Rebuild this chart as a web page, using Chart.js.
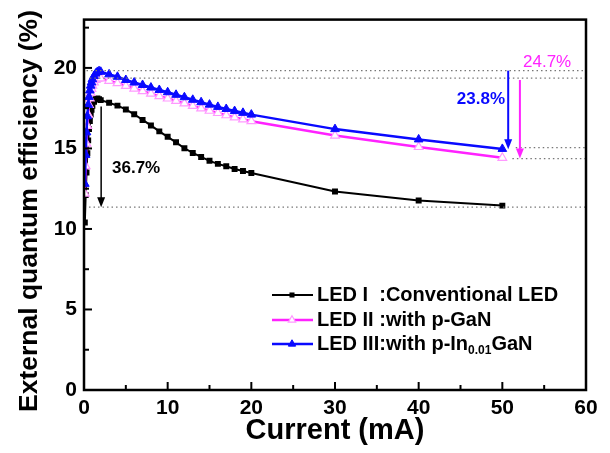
<!DOCTYPE html>
<html>
<head>
<meta charset="utf-8">
<script src="https://cdn.jsdelivr.net/npm/chart.js@4/dist/chart.umd.min.js"></script>
<style>
  html, body { margin: 0; padding: 0; background: #fff; }
</style>
</head>
<body>
<canvas id="eqeChart" width="610" height="453"></canvas>
<script>
// ===== Data =====
const current = [0.1, 0.2, 0.3, 0.4, 0.5, 0.6, 0.7, 0.8, 0.9, 1.0, 1.2, 1.4, 1.6, 1.8,
    2, 3, 4, 5, 6, 7, 8, 9, 10, 11, 12, 13, 14, 15, 16, 17, 18, 19, 20, 30, 40, 50];

const ledI = [10.4, 12.1, 13.5, 14.7, 15.5, 16.2, 16.7, 17.1, 17.4, 17.65, 17.9, 18.05, 18.1, 18.05,
    18.0, 17.84, 17.66, 17.42, 17.12, 16.77, 16.43, 16.06, 15.72, 15.38, 15.01, 14.72, 14.47, 14.23,
    14.04, 13.89, 13.72, 13.6, 13.48, 12.32, 11.77, 11.45];

const ledII = [12.2, 13.9, 15.3, 16.4, 17.1, 17.7, 18.1, 18.45, 18.7, 18.9, 19.1, 19.25, 19.33, 19.37,
    19.35, 19.2, 19.05, 18.88, 18.72, 18.56, 18.4, 18.25, 18.1, 17.95, 17.8, 17.64, 17.49, 17.34,
    17.2, 17.06, 16.93, 16.81, 16.69, 15.8, 15.09, 14.42];

const ledIII = [12.8, 14.6, 16.0, 17.0, 17.7, 18.2, 18.6, 18.9, 19.1, 19.3, 19.5, 19.65, 19.75, 19.8,
    19.76, 19.6, 19.45, 19.25, 19.09, 18.94, 18.78, 18.63, 18.49, 18.33, 18.18, 18.02, 17.87, 17.72,
    17.58, 17.45, 17.32, 17.21, 17.1, 16.2, 15.56, 14.97];

const xTicks = [0, 10, 20, 30, 40, 50, 60];
const yTicks = [0, 5, 10, 15, 20];

// legend text: main part, subscript, tail
const legendMain = ["LED I  :Conventional LED", "LED II :with p-GaN", "LED III:with p-In"];
const legendSub = ["", "", "0.01"];
const legendTail = ["", "", "GaN"];

// annotation values (% drop from peak)
const dropI = "36.7%";
const dropII = "24.7%";
const dropIII = "23.8%";

const xTitle = "Current (mA)";
const yTitle = "External quantum efficiency (%)";

// ===== Styles =====
const FONT = "'Liberation Sans', Arial, sans-serif";
const BLACK = "#000000";
const PINK = "#ff22ff";
const PINK_MARK = "#ff99ff";
const BLUE = "#0a0aff";

const toPoints = (ys) => current.map((x, i) => ({ x: x, y: ys[i] }));

// ===== Frame, ticks, arrows, dotted guides, legend, y title =====
const decorPlugin = {
    id: "decor",
    afterDraw(chart) {
        const ctx = chart.ctx;
        const xs = chart.scales.x;
        const ys = chart.scales.y;
        const a = chart.chartArea;
        const px = (v) => xs.getPixelForValue(v);
        const py = (v) => ys.getPixelForValue(v);

        ctx.save();

        // dotted guide lines
        ctx.strokeStyle = "#777";
        ctx.lineWidth = 1.2;
        ctx.setLineDash([1.5, 3]);
        const guide = (x0, y) => {
            ctx.beginPath();
            ctx.moveTo(px(x0), py(y));
            ctx.lineTo(a.right, py(y));
            ctx.stroke();
        };
        guide(0.3, 19.83);
        guide(0.7, 19.37);
        guide(0.6, 11.35);
        guide(51.6, 15.05);
        guide(51.2, 14.37);
        ctx.setLineDash([]);

        // arrows
        const arrow = (x, y1, y2, color, w) => {
            const X = px(x), Y1 = py(y1), Y2 = py(y2);
            ctx.strokeStyle = color;
            ctx.fillStyle = color;
            ctx.lineWidth = w;
            ctx.beginPath();
            ctx.moveTo(X, Y1);
            ctx.lineTo(X, Y2 - 8);
            ctx.stroke();
            ctx.beginPath();
            ctx.moveTo(X - 4, Y2 - 10);
            ctx.lineTo(X + 4, Y2 - 10);
            ctx.lineTo(X, Y2);
            ctx.closePath();
            ctx.fill();
        };
        arrow(2.05, 17.6, 11.35, BLACK, 1.5);
        arrow(50.7, 19.83, 14.95, BLUE, 2);
        arrow(52.1, 19.25, 14.37, PINK, 2);

        // labels
        ctx.textBaseline = "middle";
        ctx.font = "bold 17px " + FONT;
        ctx.fillStyle = BLACK;
        ctx.textAlign = "left";
        ctx.fillText(dropI, 112, 168);
        ctx.fillStyle = BLUE;
        ctx.textAlign = "right";
        ctx.fillText(dropIII, 505, 99);
        ctx.font = "17px " + FONT;
        ctx.fillStyle = PINK;
        ctx.textAlign = "left";
        ctx.fillText(dropII, 523, 62);

        // frame
        ctx.strokeStyle = BLACK;
        ctx.lineWidth = 2.5;
        ctx.strokeRect(a.left, a.top, a.right - a.left, a.bottom - a.top);

        // inward ticks on bottom and left
        ctx.lineWidth = 2;
        for (let v = 0; v <= 60; v += 5) {
            const len = v % 10 === 0 ? 8 : 5;
            ctx.beginPath();
            ctx.moveTo(px(v), a.bottom);
            ctx.lineTo(px(v), a.bottom - len);
            ctx.stroke();
        }
        for (let v = 0; v <= 22.5; v += 2.5) {
            const len = v % 5 === 0 ? 8 : 5;
            ctx.beginPath();
            ctx.moveTo(a.left, py(v));
            ctx.lineTo(a.left + len, py(v));
            ctx.stroke();
        }

        // y axis title
        ctx.save();
        ctx.translate(30, 211);
        ctx.rotate(-Math.PI / 2);
        ctx.fillStyle = BLACK;
        ctx.textAlign = "center";
        ctx.textBaseline = "middle";
        ctx.font = "bold 26.5px " + FONT;
        ctx.fillText(yTitle, 0, 0);
        ctx.restore();

        // legend
        const rowY = [295, 320, 344];
        for (let i = 0; i < 3; i++) {
            const y = rowY[i];
            const ds = chart.data.datasets[i];
            ctx.strokeStyle = ds.borderColor;
            ctx.lineWidth = ds.borderWidth;
            ctx.beginPath();
            ctx.moveTo(272, y);
            ctx.lineTo(313, y);
            ctx.stroke();
            ctx.fillStyle = ds.pointBackgroundColor;
            ctx.strokeStyle = ds.pointBorderColor;
            ctx.lineWidth = ds.pointBorderWidth;
            Chart.helpers.drawPoint(ctx, {
                pointStyle: ds.pointStyle,
                radius: ds.pointRadius * 0.85,
                borderWidth: ds.pointBorderWidth
            }, 292, y);
            ctx.fillStyle = BLACK;
            ctx.textAlign = "left";
            ctx.textBaseline = "middle";
            ctx.font = "bold 20px " + FONT;
            ctx.fillText(legendMain[i], 317, y);
            if (legendSub[i]) {
                let x = 317 + ctx.measureText(legendMain[i]).width;
                ctx.font = "bold 12px " + FONT;
                ctx.fillText(legendSub[i], x, y + 7);
                x += ctx.measureText(legendSub[i]).width;
                ctx.font = "bold 20px " + FONT;
                ctx.fillText(legendTail[i], x, y);
            }
        }
        ctx.restore();
    }
};

const tickFont = { family: FONT, size: 21, weight: "bold" };

new Chart(document.getElementById("eqeChart"), {
    type: "line",
    data: {
        datasets: [
            {
                label: legendMain[0],
                data: toPoints(ledI),
                borderColor: BLACK,
                backgroundColor: BLACK,
                borderWidth: 2,
                pointStyle: "rect",
                pointRadius: 4.2,
                pointBorderWidth: 0,
                pointBorderColor: BLACK,
                pointBackgroundColor: BLACK,
                tension: 0,
                order: 3
            },
            {
                label: legendMain[1],
                data: toPoints(ledII),
                borderColor: PINK,
                backgroundColor: "#ffffff",
                borderWidth: 2.5,
                pointStyle: "triangle",
                pointRadius: 5,
                pointBorderWidth: 1.2,
                pointBorderColor: PINK_MARK,
                pointBackgroundColor: "#ffffff",
                tension: 0,
                order: 2
            },
            {
                label: legendMain[2],
                data: toPoints(ledIII),
                borderColor: BLUE,
                backgroundColor: BLUE,
                borderWidth: 2.5,
                pointStyle: "triangle",
                pointRadius: 5,
                pointBorderWidth: 1,
                pointBorderColor: BLUE,
                pointBackgroundColor: BLUE,
                tension: 0,
                order: 1
            }
        ]
    },
    options: {
        responsive: false,
        animation: false,
        events: [],
        layout: { padding: { top: 15, right: 24, left: 0, bottom: 0 } },
        plugins: { legend: { display: false }, tooltip: { enabled: false } },
        scales: {
            x: {
                type: "linear",
                min: 0,
                max: 60,
                afterBuildTicks: (s) => { s.ticks = xTicks.map((v) => ({ value: v })); },
                ticks: { font: tickFont, color: BLACK, padding: 6, maxRotation: 0 },
                grid: { display: false, drawTicks: false },
                border: { display: false },
                title: {
                    display: true,
                    text: xTitle,
                    color: BLACK,
                    font: { family: FONT, size: 29, weight: "bold" },
                    padding: { top: 0, bottom: 5 }
                },
                afterFit: (s) => { s.height = 63; }
            },
            y: {
                type: "linear",
                min: 0,
                max: 23,
                afterBuildTicks: (s) => { s.ticks = yTicks.map((v) => ({ value: v })); },
                ticks: { font: tickFont, color: BLACK, padding: 7 },
                grid: { display: false, drawTicks: false },
                border: { display: false },
                afterFit: (s) => { s.width = 84; }
            }
        }
    },
    plugins: [decorPlugin]
});
</script>
</body>
</html>
